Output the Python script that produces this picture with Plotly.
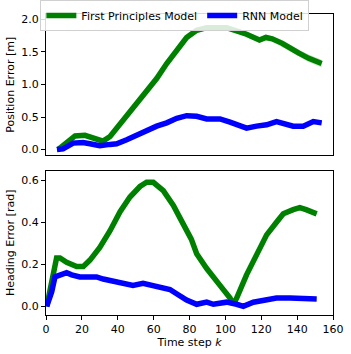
import plotly.graph_objects as go
from plotly.subplots import make_subplots

# position error (top panel)
pos_fp_k = [6.7, 11.5, 16.2, 21.7, 24.5, 30, 31.8, 35.7, 41.3, 48.5, 54, 61.7, 67.3, 72.9, 78.4, 84, 89.6,
            100.7, 106.3, 111.8, 119, 122.6, 126.1, 131.7, 141, 146.5, 153.7]
pos_fp = [0.0, 0.10, 0.21, 0.22, 0.20, 0.15, 0.13, 0.20, 0.39, 0.64, 0.85, 1.09, 1.32, 1.53, 1.72, 1.83, 1.87,
          1.87, 1.83, 1.77, 1.68, 1.72, 1.70, 1.63, 1.48, 1.40, 1.32]
pos_fp_sd = [0.01, 0.01, 0.02, 0.02, 0.02, 0.02, 0.02, 0.02, 0.02, 0.02, 0.02, 0.03, 0.03, 0.03, 0.04, 0.04, 0.04,
             0.04, 0.04, 0.04, 0.04, 0.04, 0.04, 0.05, 0.05, 0.06, 0.06]

pos_rnn_k = [6.1, 9.5, 15.1, 20.6, 24.5, 30, 35.7, 39.4, 45, 50.5, 56.1, 61.7, 67.3, 72.9, 78.4, 84, 89.6, 97,
             102.6, 108.2, 111.8, 117.4, 123, 128.5, 132.3, 137.8, 143.4, 149, 153.7]
pos_rnn = [0.0, 0.01, 0.10, 0.11, 0.09, 0.06, 0.08, 0.09, 0.15, 0.22, 0.30, 0.36, 0.41, 0.48, 0.52, 0.51, 0.47,
           0.47, 0.42, 0.36, 0.33, 0.36, 0.38, 0.43, 0.41, 0.36, 0.36, 0.43, 0.41]
pos_rnn_sd = [0.01] * 14 + [0.02, 0.03, 0.03, 0.02] + [0.01] * 11

# heading error (bottom panel)
head_fp_k = [0.4, 4.1, 5.9, 7.8, 11.5, 17.1, 20.8, 24.5, 30, 35.7, 41.3, 46.8, 52.4, 56.1, 59.8, 65.4, 71,
             76.6, 81, 84, 89.6, 97, 102.6, 104.4, 106.3, 111.8, 117.4, 123, 128.5, 132.3, 137.8, 141.5, 145, 150.9]
head_fp = [0.0, 0.15, 0.23, 0.23, 0.21, 0.19, 0.19, 0.22, 0.28, 0.36, 0.45, 0.52, 0.57, 0.59, 0.59, 0.55, 0.48,
           0.39, 0.32, 0.25, 0.18, 0.10, 0.04, 0.01, 0.04, 0.15, 0.24, 0.34, 0.40, 0.44, 0.46, 0.47, 0.46, 0.44]
head_fp_sd = [0.006] * 34

head_rnn_k = [0.4, 3.2, 5, 7.8, 11.5, 14.3, 18.9, 24.5, 28.2, 31.9, 37.4, 43, 48.5, 54.1, 59.8, 65.4, 69.1,
              72.8, 78.4, 84, 89.6, 93.3, 100.7, 106.3, 110, 115.6, 121.2, 128.5, 136, 143.4, 150.9]
head_rnn = [0.0, 0.07, 0.14, 0.15, 0.16, 0.15, 0.14, 0.14, 0.14, 0.13, 0.12, 0.11, 0.10, 0.11, 0.10, 0.09, 0.08,
            0.06, 0.03, 0.01, 0.02, 0.01, 0.02, 0.01, 0.0, 0.02, 0.03, 0.04, 0.04, 0.035, 0.035]
head_rnn_sd = [0.008] * 31

GREEN = "#008000"
BLUE = "#0000ff"

fig = make_subplots(rows=2, cols=1, shared_xaxes=True, vertical_spacing=0.05)


def add(k, y, sd, color, fill, name, row, legend):
    fig.add_trace(go.Scatter(x=k + k[::-1],
                             y=[a + b for a, b in zip(y, sd)] + [a - b for a, b in zip(y, sd)][::-1],
                             fill="toself", fillcolor=fill, line=dict(width=0), mode="lines",
                             hoverinfo="skip", showlegend=False), row=row, col=1)
    fig.add_trace(go.Scatter(x=k, y=y, mode="lines", name=name, line=dict(color=color, width=5.5),
                             showlegend=legend), row=row, col=1)


add(pos_fp_k, pos_fp, pos_fp_sd, GREEN, "rgba(0,128,0,0.2)", "First Principles Model", 1, True)
add(pos_rnn_k, pos_rnn, pos_rnn_sd, BLUE, "rgba(0,0,255,0.2)", "RNN Model", 1, True)
add(head_fp_k, head_fp, head_fp_sd, GREEN, "rgba(0,128,0,0.2)", "First Principles Model", 2, False)
add(head_rnn_k, head_rnn, head_rnn_sd, BLUE, "rgba(0,0,255,0.2)", "RNN Model", 2, False)

axis_style = dict(showline=True, linecolor="black", linewidth=1, mirror=True, ticks="outside",
                  ticklen=4, tickcolor="black", showgrid=False, zeroline=False, automargin=False,
                  tickfont=dict(size=11, color="black"))

fig.update_xaxes(**axis_style, range=[0, 160], dtick=20)
fig.update_xaxes(showticklabels=False, ticks="", row=1, col=1)
fig.update_xaxes(title=dict(text="Time step <i>k</i>", font=dict(size=11, color="black"), standoff=0),
                 row=2, col=1)
fig.update_yaxes(**axis_style)
fig.update_yaxes(range=[-0.09, 2.08], dtick=0.5, tickformat=".1f", domain=[0.53, 1],
                 title=dict(text="Position Error [m]", font=dict(size=11, color="black"), standoff=4),
                 row=1, col=1)
fig.update_yaxes(range=[-0.041, 0.646], dtick=0.2, tickformat=".1f", domain=[0, 0.48],
                 title=dict(text="Heading Error [rad]", font=dict(size=11, color="black"), standoff=4),
                 row=2, col=1)

fig.update_layout(
    width=351, height=354,
    margin=dict(l=46, r=18, t=14, b=39, autoexpand=False),
    plot_bgcolor="white", paper_bgcolor="white",
    font=dict(family="DejaVu Sans", size=11, color="black"),
    legend=dict(orientation="h", x=0.449, xanchor="center", y=0.995, yanchor="middle",
                bgcolor="rgba(255,255,255,0.85)", bordercolor="#d0d0d0", borderwidth=1,
                font=dict(size=11), itemwidth=30, tracegroupgap=0),
)

# drop the browser's default page margin so the figure sits at the window origin
fig.write_html("out.html", config={"displayModeBar": False},
               post_script="document.body.style.margin = '0';")
